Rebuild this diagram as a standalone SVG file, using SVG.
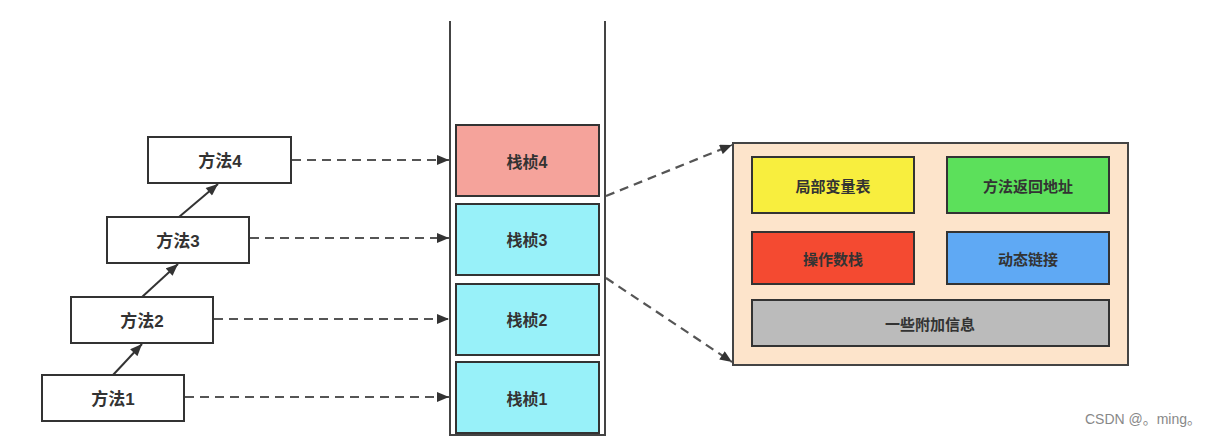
<svg xmlns="http://www.w3.org/2000/svg" width="1210" height="438" viewBox="0 0 1210 438">
<style>
text{font-family:"Liberation Sans","Noto Sans CJK SC",sans-serif;fill:#333;text-anchor:middle;dominant-baseline:central;font-weight:bold}
.m{fill:#fff;stroke:#333;stroke-width:2}
.f{stroke:#333;stroke-width:2}
.p{stroke:#333;stroke-width:2}
.dash{fill:none;stroke:#555;stroke-width:2.2;stroke-dasharray:9 6}
.solid{fill:none;stroke:#333;stroke-width:2}
.t17{font-size:17px}
.t16{font-size:16px}
.t15{font-size:15px}
</style>
<defs>
<marker id="ah" viewBox="0 0 12 10" refX="12" refY="5" markerWidth="13" markerHeight="10" orient="auto" markerUnits="userSpaceOnUse">
<path d="M0,0 L12,5 L0,10 z" fill="#333"/>
</marker>
</defs>
<rect width="1210" height="438" fill="#fff"/>

<g id="stack">
<path d="M450,21 V435 H605 V21" fill="none" stroke="#444" stroke-width="2"/>
</g>

<g id="method4"><rect class="m" x="148" y="137" width="143" height="46"/><text class="t17" x="220" y="161">方法4</text></g>
<g id="method3"><rect class="m" x="107" y="217" width="142" height="46"/><text class="t17" x="178" y="241">方法3</text></g>
<g id="method2"><rect class="m" x="71" y="297" width="142" height="46"/><text class="t17" x="142" y="321">方法2</text></g>
<g id="method1"><rect class="m" x="42" y="375" width="142" height="46"/><text class="t17" x="113" y="399">方法1</text></g>

<g id="frame4"><rect class="f" x="456" y="125" width="143" height="71" fill="#F5A39B"/><text class="t16" x="527" y="162">栈桢4</text></g>
<g id="frame3"><rect class="f" x="456" y="204" width="143" height="71" fill="#98F1F9"/><text class="t16" x="527" y="240">栈桢3</text></g>
<g id="frame2"><rect class="f" x="456" y="284" width="143" height="71" fill="#98F1F9"/><text class="t16" x="527" y="320">栈桢2</text></g>
<g id="frame1"><rect class="f" x="456" y="362" width="143" height="71" fill="#98F1F9"/><text class="t16" x="527" y="399">栈桢1</text></g>

<g id="panel"><rect x="733" y="143" width="395" height="222" fill="#FDE4CB" stroke="#444" stroke-width="2"/></g>
<g id="locals"><rect class="p" x="752" y="157" width="162" height="56" fill="#F8EE3E"/><text class="t15" x="833" y="186">局部变量表</text></g>
<g id="retaddr"><rect class="p" x="947" y="157" width="162" height="56" fill="#5CE05B"/><text class="t15" x="1028" y="186">方法返回地址</text></g>
<g id="opstack"><rect class="p" x="752" y="232" width="162" height="52" fill="#F44A31"/><text class="t15" x="833" y="259">操作数栈</text></g>
<g id="dynlink"><rect class="p" x="947" y="232" width="162" height="52" fill="#5FA9F4"/><text class="t15" x="1028" y="259">动态链接</text></g>
<g id="extra"><rect class="p" x="752" y="300" width="357" height="46" fill="#BBBBBB"/><text class="t15" x="930" y="324">一些附加信息</text></g>

<g id="connectors">
<line class="solid" x1="113" y1="375" x2="142" y2="344" marker-end="url(#ah)"/>
<line class="solid" x1="142" y1="297" x2="178" y2="264" marker-end="url(#ah)"/>
<line class="solid" x1="179" y1="217" x2="218" y2="184" marker-end="url(#ah)"/>
<line class="dash" x1="292" y1="160" x2="449" y2="160" marker-end="url(#ah)"/>
<line class="dash" x1="250" y1="238" x2="449" y2="238" marker-end="url(#ah)"/>
<line class="dash" x1="214" y1="319" x2="449" y2="319" marker-end="url(#ah)"/>
<line class="dash" x1="185" y1="397" x2="449" y2="397" marker-end="url(#ah)"/>
<line class="dash" x1="606" y1="196" x2="732" y2="145" marker-end="url(#ah)"/>
<line class="dash" x1="606" y1="278" x2="732" y2="362" marker-end="url(#ah)"/>
</g>

<text x="1143" y="419" style="font-size:14px;font-weight:normal;fill:#888">CSDN @。ming。</text>
</svg>
